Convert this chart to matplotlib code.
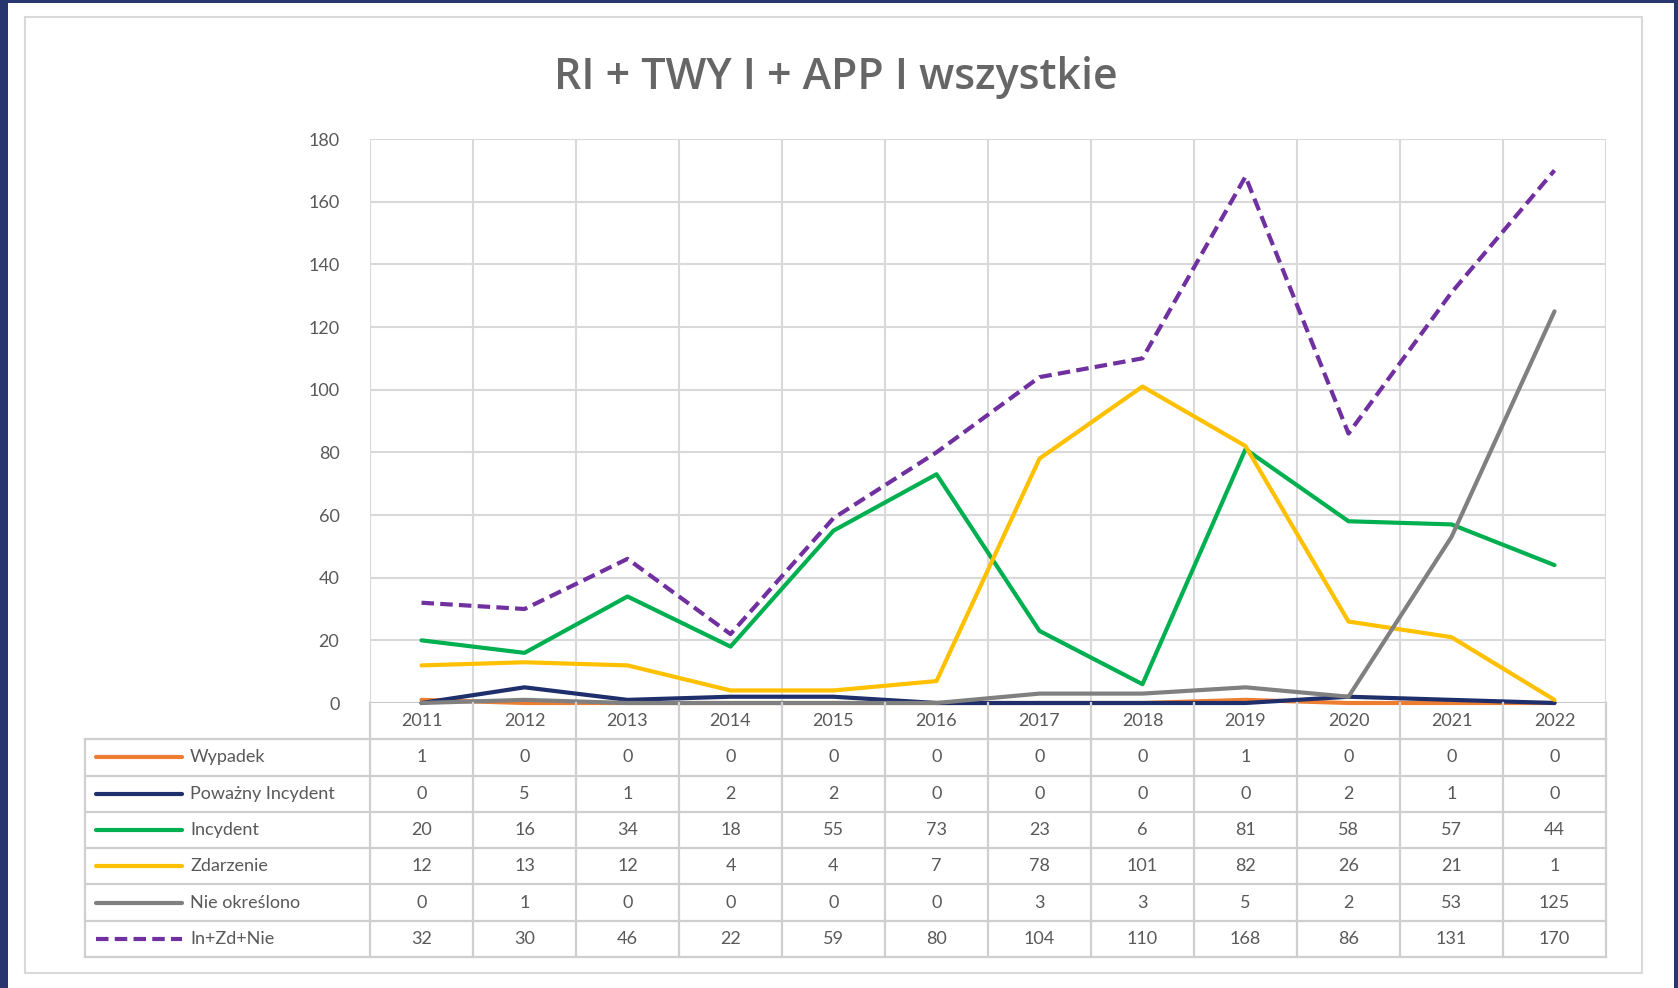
import matplotlib
matplotlib.use("Agg")
import matplotlib.pyplot as plt
from matplotlib.patches import Rectangle

years = ["2011", "2012", "2013", "2014", "2015", "2016", "2017", "2018", "2019", "2020", "2021", "2022"]
wypadek = [1, 0, 0, 0, 0, 0, 0, 0, 1, 0, 0, 0]
powazny = [0, 5, 1, 2, 2, 0, 0, 0, 0, 2, 1, 0]
incydent = [20, 16, 34, 18, 55, 73, 23, 6, 81, 58, 57, 44]
zdarzenie = [12, 13, 12, 4, 4, 7, 78, 101, 82, 26, 21, 1]
nie_okreslono = [0, 1, 0, 0, 0, 0, 3, 3, 5, 2, 53, 125]
suma = [32, 30, 46, 22, 59, 80, 104, 110, 168, 86, 131, 170]
series_names = ["Wypadek", "Poważny Incydent", "Incydent", "Zdarzenie", "Nie określono", "In+Zd+Nie"]
yticks = [0, 20, 40, 60, 80, 100, 120, 140, 160, 180]
title = "RI + TWY I + APP I wszystkie"

series = [wypadek, powazny, incydent, zdarzenie, nie_okreslono, suma]
colors = ["#ED7D31", "#1F2F6B", "#00B050", "#FFC000", "#808080", "#7030A0"]
styles = ["-", "-", "-", "-", "-", (0, (3, 1.5))]

W, H = 1678, 988
fig = plt.figure(figsize=(W / 100, H / 100), dpi=100)
fig.patch.set_facecolor("#283670")

def fx(x):
    return x / W

def fy(y):
    return 1 - y / H

# white page and chart frame
fig.add_artist(Rectangle((fx(8), fy(988)), fx(1674) - fx(8), fy(3) - fy(988),
                         transform=fig.transFigure, facecolor="white", edgecolor="none", zorder=-3))
fig.add_artist(Rectangle((fx(25), fy(973)), fx(1642) - fx(25), fy(17) - fy(973),
                         transform=fig.transFigure, facecolor="white", edgecolor="#D9D9D9", lw=1.5, zorder=-2))

TXT = "#595959"
GRID = "#D9D9D9"
TBL = "#CFCFCF"
FONT = ["Lato", "DejaVu Sans"]

PL, PR, PT, PB = 370, 1606, 139, 703
ax = fig.add_axes([fx(PL), fy(PB), fx(PR) - fx(PL), fy(PT) - fy(PB)])
ax.set_facecolor("none")
n = len(years)
x = list(range(n))
ax.set_xlim(-0.5, n - 0.5)
ax.set_ylim(0, 180)
for s in ax.spines.values():
    s.set_visible(False)
ax.set_yticks(yticks)
ax.set_yticklabels([str(v) for v in yticks], fontsize=13, color=TXT, family=FONT)
ax.tick_params(axis="y", length=0, pad=22)
ax.set_xticks([])
for v in yticks:
    ax.axhline(v, color=GRID if v > 0 else "#C8C8C8", lw=1.5, zorder=0.5)
for i in range(n + 1):
    ax.axvline(i - 0.5, color=GRID, lw=1.5, zorder=0.5)

for vals, c, ls in zip(series, colors, styles):
    ax.plot(x, vals, color=c, lw=3.0, linestyle=ls, solid_capstyle="round",
            solid_joinstyle="round", dash_capstyle="butt", zorder=3, clip_on=False)

fig.text(fx(836), fy(89), title, ha="center", va="baseline", fontsize=31,
         color="#666666", family=["Open Sans", "DejaVu Sans"], fontweight="semibold")

# data table
TL, TT, TB = 85, 703, 957
unit = (PR - PL) / n
xl = -0.5 - (PL - TL) / unit
tax = fig.add_axes([fx(TL), fy(TB), fx(PR) - fx(TL), fy(TT) - fy(TB)])
tax.set_xlim(xl, n - 0.5)
nrows = len(series) + 1
tax.set_ylim(nrows, 0)
tax.axis("off")

def px2u(p):
    return -0.5 + (p - PL) / unit

for r in range(1, nrows + 1):
    tax.plot([xl, n - 0.5], [r, r], color=TBL, lw=1.6, clip_on=False, zorder=1)
tax.plot([xl, xl], [1, nrows], color=TBL, lw=1.6, clip_on=False, zorder=1)
for i in range(n + 1):
    tax.plot([i - 0.5, i - 0.5], [0, nrows], color=TBL, lw=1.6, clip_on=False, zorder=1)

for i, yv in enumerate(years):
    tax.text(i, 0.5, yv, ha="center", va="center", fontsize=13, color=TXT, family=FONT)

for r, (name, vals, c, ls) in enumerate(zip(series_names, series, colors, styles), start=1):
    tax.plot([px2u(96), px2u(182)], [r + 0.5, r + 0.5], color=c, lw=3.0, linestyle=ls,
             solid_capstyle="round", dash_capstyle="butt", zorder=3, clip_on=False)
    tax.text(px2u(190), r + 0.5, name, ha="left", va="center", fontsize=13, color=TXT, family=FONT)
    for i, v in enumerate(vals):
        tax.text(i, r + 0.5, str(v), ha="center", va="center", fontsize=13, color=TXT, family=FONT)

fig.savefig("out.png", dpi=100, facecolor=fig.get_facecolor())
